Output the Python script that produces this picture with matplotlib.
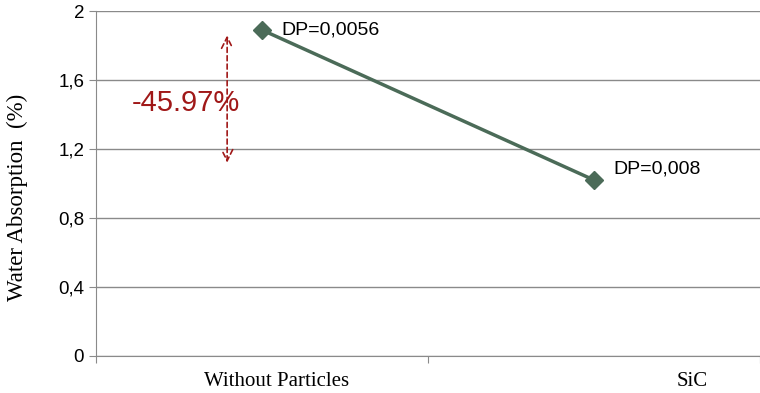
import matplotlib.pyplot as plt

categories = ["Without Particles", "SiC"]
absorption = [1.89, 1.02]
dp_labels = ["DP=0,0056", "DP=0,008"]
dp_offsets = [(14, 0), (14, 8)]
reduction = "-45.97%"
yticks = [0, 0.4, 0.8, 1.2, 1.6, 2.0]
ytick_labels = ["0", "0,4", "0,8", "1,2", "1,6", "2"]

fig = plt.figure(figsize=(7.6, 3.93), dpi=100)
ax = fig.add_axes([96 / 760, 37 / 393, 664 / 760, 345 / 393])

xs = [0.5, 1.5]
ax.plot(xs, absorption, color="#4b6b58", lw=2.5, marker="D", ms=9, zorder=3)

for x, y, lab, off in zip(xs, absorption, dp_labels, dp_offsets):
    ax.annotate(lab, (x, y), xytext=off, textcoords="offset points",
                va="center", ha="left", fontsize=14, family="Liberation Sans")

ax.annotate("", xy=(0.395, 1.875), xytext=(0.395, 1.105),
            arrowprops=dict(arrowstyle="<->", color="#a01818", lw=1.2,
                            ls=(0, (3, 2)), mutation_scale=20))
ax.text(0.27, 1.465, reduction, color="#a01818", fontsize=21,
        family="Liberation Sans", ha="center", va="center")

ax.set_xlim(0, 2)
ax.set_ylim(0, 2)
ax.set_yticks(yticks)
ax.set_yticklabels(ytick_labels, family="Liberation Sans", fontsize=13.5)
ax.yaxis.grid(True, color="#8a8a8a", lw=1)
ax.set_axisbelow(True)

ax.set_xticks([0, 1, 2])
ax.set_xticklabels(["", "", ""])
ax.tick_params(axis="x", length=5, color="#8a8a8a")
ax.tick_params(axis="y", length=5, color="#8a8a8a")
for lab_x, lab in zip([0.545, 1.795], categories):
    ax.text(lab_x, -0.15, lab, ha="center", va="center",
            family="Liberation Serif", fontsize=15, transform=ax.transData)

fig.text(17 / 760, 1 - 197 / 393, "Water Absorption  (%)", rotation=90,
         ha="center", va="center", family="Liberation Serif", fontsize=16.5)

for s in ["top", "right"]:
    ax.spines[s].set_visible(False)
for s in ["left", "bottom"]:
    ax.spines[s].set_color("#8a8a8a")

fig.savefig("out.png", dpi=100)
